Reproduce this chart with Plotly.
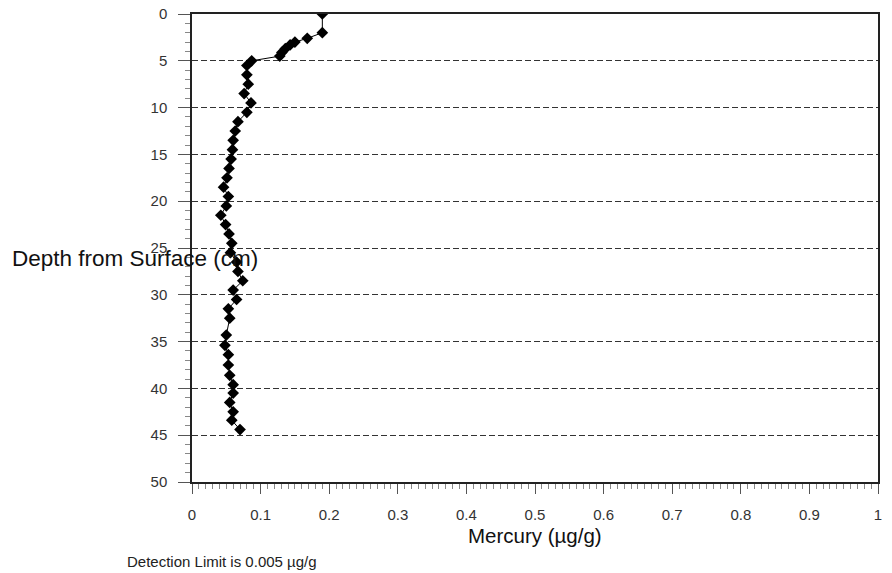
import plotly.graph_objects as go

# Depth (cm) and mercury concentration (µg/g)
depth = [0, 2, 2.6, 3.0, 3.3, 3.7, 4.1, 4.5, 5.0, 5.5, 6.5, 7.5, 8.5, 9.5, 10.5,
         11.5, 12.5, 13.5, 14.5, 15.5, 16.5, 17.5, 18.5, 19.5, 20.5, 21.5, 22.5,
         23.5, 24.5, 25.5, 26.5, 27.5, 28.5, 29.5, 30.5, 31.5, 32.5, 34.3, 35.4,
         36.4, 37.5, 38.6, 39.6, 40.5, 41.5, 42.5, 43.4, 44.4]
mercury = [0.19, 0.19, 0.168, 0.15, 0.143, 0.136, 0.131, 0.128, 0.087, 0.080,
           0.080, 0.082, 0.076, 0.086, 0.080, 0.067, 0.063, 0.060, 0.059, 0.057,
           0.054, 0.051, 0.046, 0.053, 0.050, 0.042, 0.049, 0.054, 0.058, 0.056,
           0.065, 0.067, 0.074, 0.060, 0.065, 0.053, 0.055, 0.050, 0.048, 0.053,
           0.053, 0.055, 0.060, 0.060, 0.055, 0.060, 0.058, 0.070]

x_title = "Mercury (µg/g)"
y_title = "Depth from Surface (cm)"
note = "Detection Limit is 0.005 µg/g"

FONT = "Liberation Sans, Arial, sans-serif"

fig = go.Figure()
fig.add_trace(go.Scatter(
    x=mercury, y=depth, mode="lines+markers",
    line=dict(color="black", width=1),
    marker=dict(symbol="diamond", size=9, color="black"),
    showlegend=False,
))

fig.update_layout(
    width=892, height=573,
    margin=dict(l=192, r=14, t=14, b=91),
    plot_bgcolor="white", paper_bgcolor="white",
    font=dict(family=FONT, color="#222"),
    xaxis=dict(
        range=[0, 1], dtick=0.1, tick0=0, automargin=False,
        showline=True, linecolor="#222", linewidth=1.5, mirror=True,
        ticks="outside", ticklen=10, tickcolor="#555", tickwidth=1,
        minor=dict(ticks="outside", ticklen=5, dtick=0.01, tickcolor="#888", tickwidth=1),
        showgrid=False, zeroline=False,
        tickfont=dict(size=15, color="#333"),
        ticklabelstandoff=8,
    ),
    yaxis=dict(
        range=[50, 0], dtick=5, tick0=0, automargin=False,
        showline=True, linecolor="#222", linewidth=1.5, mirror=True,
        ticks="outside", ticklen=12, tickcolor="#555", tickwidth=1,
        minor=dict(ticks="outside", ticklen=5, dtick=1, tickcolor="#888", tickwidth=1),
        showgrid=True, gridcolor="#333", gridwidth=1, griddash="6px,3px",
        zeroline=False,
        tickfont=dict(size=15, color="#333"),
        ticklabelstandoff=8,
    ),
    annotations=[
        dict(text=y_title, xref="paper", yref="paper", x=-0.2653, y=(482 - 258) / 468,
             xanchor="left", yanchor="middle", showarrow=False,
             font=dict(size=22.5, color="#111", family=FONT)),
        dict(text=x_title, xref="paper", yref="paper", x=(535 - 192) / 686, y=-(535 - 482) / 468,
             xanchor="center", yanchor="middle", showarrow=False,
             font=dict(size=20.5, color="#111", family=FONT)),
        dict(text=note, xref="paper", yref="paper", x=(125 - 192) / 686, y=-(561 - 482) / 468,
             xanchor="left", yanchor="middle", showarrow=False,
             font=dict(size=15, color="#222", family=FONT)),
    ],
)

fig.write_html("out.html")
